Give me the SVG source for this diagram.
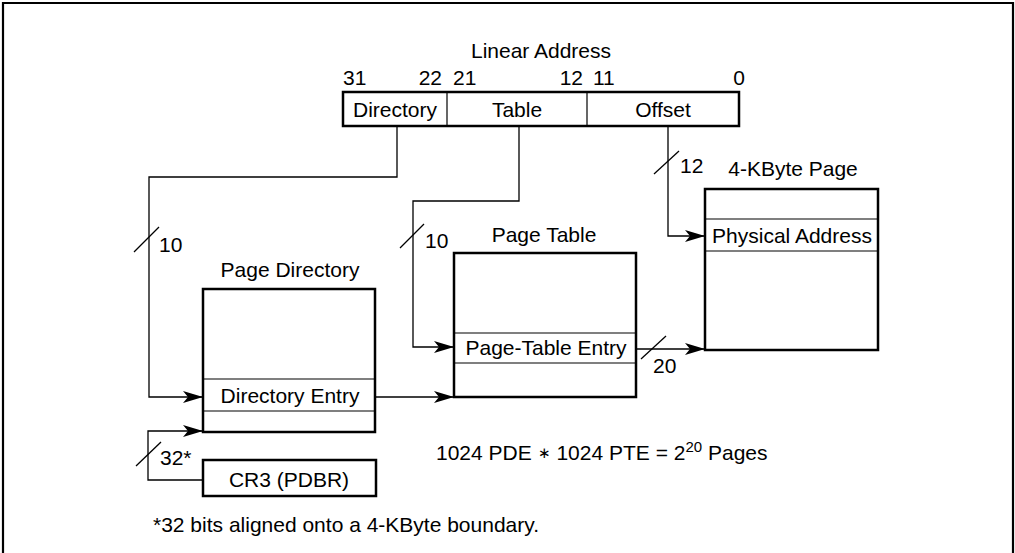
<svg xmlns="http://www.w3.org/2000/svg" width="1015" height="553" viewBox="0 0 1015 553">
<style>
text{font-family:"Liberation Sans",Arial,sans-serif;font-size:21px;fill:#000}
.c{text-anchor:middle}
.box{fill:#fff;stroke:#000;stroke-width:2.5}
.div{stroke:#000;stroke-width:1.2;fill:none}
.con{stroke:#000;stroke-width:1.3;fill:none}
.slash{stroke:#000;stroke-width:1.3}
</style>
<defs>
<marker id="arr" markerUnits="userSpaceOnUse" markerWidth="22" markerHeight="14" refX="20" refY="7" orient="auto">
<path d="M0,1 L20,7 L0,13 L5,7 Z" fill="#000"/>
</marker>
</defs>
<rect width="1015" height="553" fill="#fff"/>
<path d="M3,553 V3 H1013 V553" fill="none" stroke="#000" stroke-width="2.2"/>

<g id="linear-address">
<text class="c" x="541" y="58">Linear Address</text>
<text x="343" y="85">31</text>
<text x="442" y="85" text-anchor="end">22</text>
<text x="453" y="85">21</text>
<text x="583" y="85" text-anchor="end">12</text>
<text x="593" y="85">11</text>
<text x="745" y="85" text-anchor="end">0</text>
<rect class="box" x="343" y="92" width="396" height="34"/>
<line class="div" x1="447" y1="92" x2="447" y2="126"/>
<line class="div" x1="587" y1="92" x2="587" y2="126"/>
<text class="c" x="395" y="117">Directory</text>
<text class="c" x="517" y="117">Table</text>
<text class="c" x="663" y="117">Offset</text>
</g>

<g id="page-directory">
<text class="c" x="290" y="277">Page Directory</text>
<rect class="box" x="203" y="289" width="172" height="143"/>
<line class="div" x1="203" y1="379" x2="375" y2="379"/>
<line class="div" x1="203" y1="411" x2="375" y2="411"/>
<text class="c" x="290" y="403">Directory Entry</text>
</g>

<g id="page-table">
<text class="c" x="544" y="242">Page Table</text>
<rect class="box" x="454" y="253" width="182" height="144"/>
<line class="div" x1="454" y1="333" x2="636" y2="333"/>
<line class="div" x1="454" y1="363" x2="636" y2="363"/>
<text class="c" x="546" y="355">Page-Table Entry</text>
</g>

<g id="page-4k">
<text class="c" x="793" y="176">4-KByte Page</text>
<rect class="box" x="705" y="189" width="173" height="161"/>
<line class="div" x1="705" y1="219" x2="878" y2="219"/>
<line class="div" x1="705" y1="251" x2="878" y2="251"/>
<text class="c" x="792" y="243">Physical Address</text>
</g>

<g id="cr3">
<rect class="box" x="203" y="460" width="173" height="36"/>
<text class="c" x="289" y="487">CR3 (PDBR)</text>
</g>

<g id="connectors">
<path class="con" d="M397,126 V177 H149 V397 H203" marker-end="url(#arr)"/>
<path class="con" d="M519,126 V201 H413 V347 H454" marker-end="url(#arr)"/>
<path class="con" d="M668,126 V236 H705" marker-end="url(#arr)"/>
<path class="con" d="M375,397 H454" marker-end="url(#arr)"/>
<path class="con" d="M636,349 H705" marker-end="url(#arr)"/>
<path class="con" d="M203,480 H148 V431 H203" marker-end="url(#arr)"/>
<line class="slash" x1="134" y1="252" x2="159" y2="227"/>
<text x="159" y="252">10</text>
<line class="slash" x1="400" y1="248" x2="424" y2="224"/>
<text x="425" y="248">10</text>
<line class="slash" x1="654" y1="174" x2="679" y2="151"/>
<text x="680" y="173">12</text>
<line class="slash" x1="641" y1="359" x2="666" y2="336"/>
<text x="653" y="373">20</text>
<line class="slash" x1="136" y1="466" x2="161" y2="442"/>
<text x="160" y="465">32*</text>
</g>

<text x="436" y="460">1024 PDE <tspan font-size="15" dy="-2">∗</tspan><tspan dy="2"> 1024 PTE = 2</tspan><tspan dy="-8" font-size="15">20</tspan><tspan dy="8"> Pages</tspan></text>
<text x="153" y="532">*32 bits aligned onto a 4-KByte boundary.</text>
</svg>
